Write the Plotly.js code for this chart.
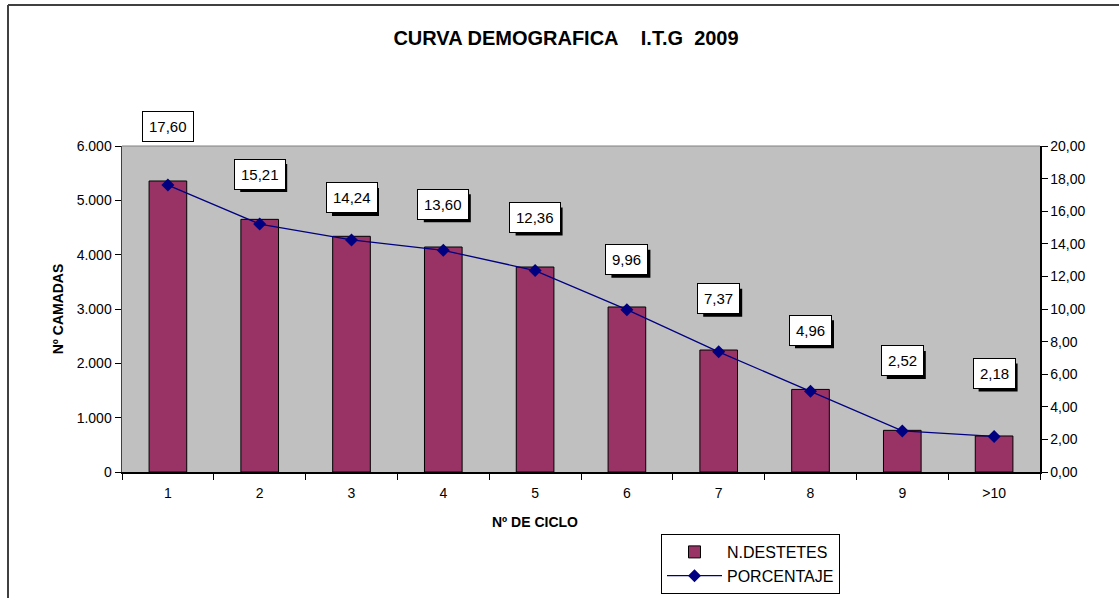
<!DOCTYPE html>
<html>
<head>
<meta charset="utf-8">
<script src="https://cdn.plot.ly/plotly-3.0.1.min.js"></script>
<style>html,body{margin:0;padding:0;background:#fff;}#chart{width:1119px;height:598px;}</style>
</head>
<body>
<div id="chart"></div>
<script>
// ---- data ----
const categories = ['1', '2', '3', '4', '5', '6', '7', '8', '9', '>10'];
const destetes = [5356, 4650, 4338, 4141, 3773, 3037, 2245, 1520, 767, 663];
const porcentaje = [17.60, 15.21, 14.24, 13.60, 12.36, 9.96, 7.37, 4.96, 2.52, 2.18];
const porcentajeLabels = ['17,60', '15,21', '14,24', '13,60', '12,36', '9,96', '7,37', '4,96', '2,52', '2,18'];

// ---- styling (label lift in px above each point) ----
const labelLift = [59, 50, 42, 46, 53, 50, 53, 61, 70, 63];
const FONT = 'Liberation Sans, Arial, sans-serif';

// plot area in px: x 122..1040, y 146..472
const W = 1119, H = 598;
const L = 122, R = 1040, T = 146, B = 472;
const px = v => (v - L) / (R - L);
const py = v => (B - v) / (B - T);

const traces = [
  {
    type: 'bar', name: 'N.DESTETES', x: categories, y: destetes, yaxis: 'y',
    marker: {color: '#993366', line: {color: '#000000', width: 1}},
    hoverinfo: 'x+y'
  },
  {
    type: 'scatter', mode: 'lines+markers', name: 'PORCENTAJE', x: categories, y: porcentaje, yaxis: 'y2',
    line: {color: '#000080', width: 1.3},
    marker: {symbol: 'diamond', size: 10, color: '#000080', line: {color: '#000080', width: 0}}
  }
];

const annotations = [];
const shapes = [
  {type: 'line', xref: 'paper', yref: 'paper', x0: 0, x1: 1, y0: 1, y1: 1, line: {color: '#808080', width: 1}},
  {type: 'line', xref: 'paper', yref: 'paper', x0: px(8), x1: px(1125), y0: py(5), y1: py(5), line: {color: '#404040', width: 2}},
  {type: 'line', xref: 'paper', yref: 'paper', x0: px(8), x1: px(8), y0: py(5), y1: py(605), line: {color: '#404040', width: 2}}
];
categories.forEach((c, i) => {
  const w = porcentajeLabels[i].length >= 5 ? 47 : 39;
  const h = 28;
  // drop shadow behind the label box
  shapes.push({
    type: 'rect', xref: 'x', yref: 'y2', xsizemode: 'pixel', ysizemode: 'pixel',
    xanchor: i, yanchor: porcentaje[i],
    x0: -w / 2 + 4, x1: w / 2 + 4, y0: labelLift[i] - 4 - h / 2, y1: labelLift[i] - 4 + h / 2,
    fillcolor: '#000000', line: {width: 0}, layer: 'above'
  });
  annotations.push({
    x: i, y: porcentaje[i], xref: 'x', yref: 'y2', text: porcentajeLabels[i], showarrow: false,
    yshift: labelLift[i],
    font: {family: FONT, size: 15, color: '#000000'},
    bgcolor: '#ffffff', bordercolor: '#000000', borderwidth: 1, borderpad: 6
  });
});
annotations.push({
  xref: 'paper', yref: 'paper', x: px(535), y: py(522), xanchor: 'center', yanchor: 'middle',
  text: '<b>Nº DE CICLO</b>', showarrow: false, font: {family: FONT, size: 14, color: '#000000'}
});

const layout = {
  width: W, height: H,
  margin: {l: L, r: W - R, t: T, b: H - B, pad: 0, autoexpand: false},
  paper_bgcolor: '#ffffff', plot_bgcolor: '#C0C0C0',
  separators: ',.',
  font: {family: FONT, size: 14, color: '#000000'},
  title: {
    text: '<b>CURVA DEMOGRAFICA\u00A0\u00A0\u00A0\u00A0I.T.G\u00A0\u00A02009</b>',
    x: px(566), xref: 'paper', xanchor: 'center', y: 1 - 38 / H, yanchor: 'middle', yref: 'container',
    font: {family: FONT, size: 20, color: '#000000'}
  },
  bargap: 0.59,
  showlegend: true,
  legend: {
    x: 661 / W, y: 1 - 534 / H, xanchor: 'left', yanchor: 'top', xref: 'container', yref: 'container',
    bgcolor: '#ffffff', bordercolor: '#000000', borderwidth: 1,
    font: {family: FONT, size: 16, color: '#000000'}, traceorder: 'normal', itemwidth: 55
  },
  xaxis: {
    type: 'category', range: [-0.5, 9.5], tickson: 'boundaries', ticks: 'outside', ticklen: 6, tickcolor: '#000000',
    showline: true, linecolor: '#000000', linewidth: 1.5, showgrid: false, zeroline: false,
    tickfont: {family: FONT, size: 14}, ticklabelstandoff: 8, automargin: false
  },
  yaxis: {
    title: {text: '<b>Nº CAMADAS</b>', font: {family: FONT, size: 14}, standoff: 10},
    range: [0, 6000], dtick: 1000, tickformat: ',d', ticks: 'outside', ticklen: 6, tickcolor: '#000000',
    showline: true, linecolor: '#404040', linewidth: 1.5, showgrid: false, zeroline: false,
    tickfont: {family: FONT, size: 14}, automargin: false
  },
  yaxis2: {
    overlaying: 'y', side: 'right', range: [0, 20], dtick: 2, tickformat: '.2f',
    ticks: 'outside', ticklen: 6, tickcolor: '#000000',
    showline: true, linecolor: '#000000', linewidth: 1.5, showgrid: false, zeroline: false,
    tickfont: {family: FONT, size: 14}, automargin: false
  },
  annotations: annotations,
  shapes: shapes
};

Plotly.newPlot('chart', traces, layout, {displayModeBar: false, staticPlot: true});
</script>
</body>
</html>
